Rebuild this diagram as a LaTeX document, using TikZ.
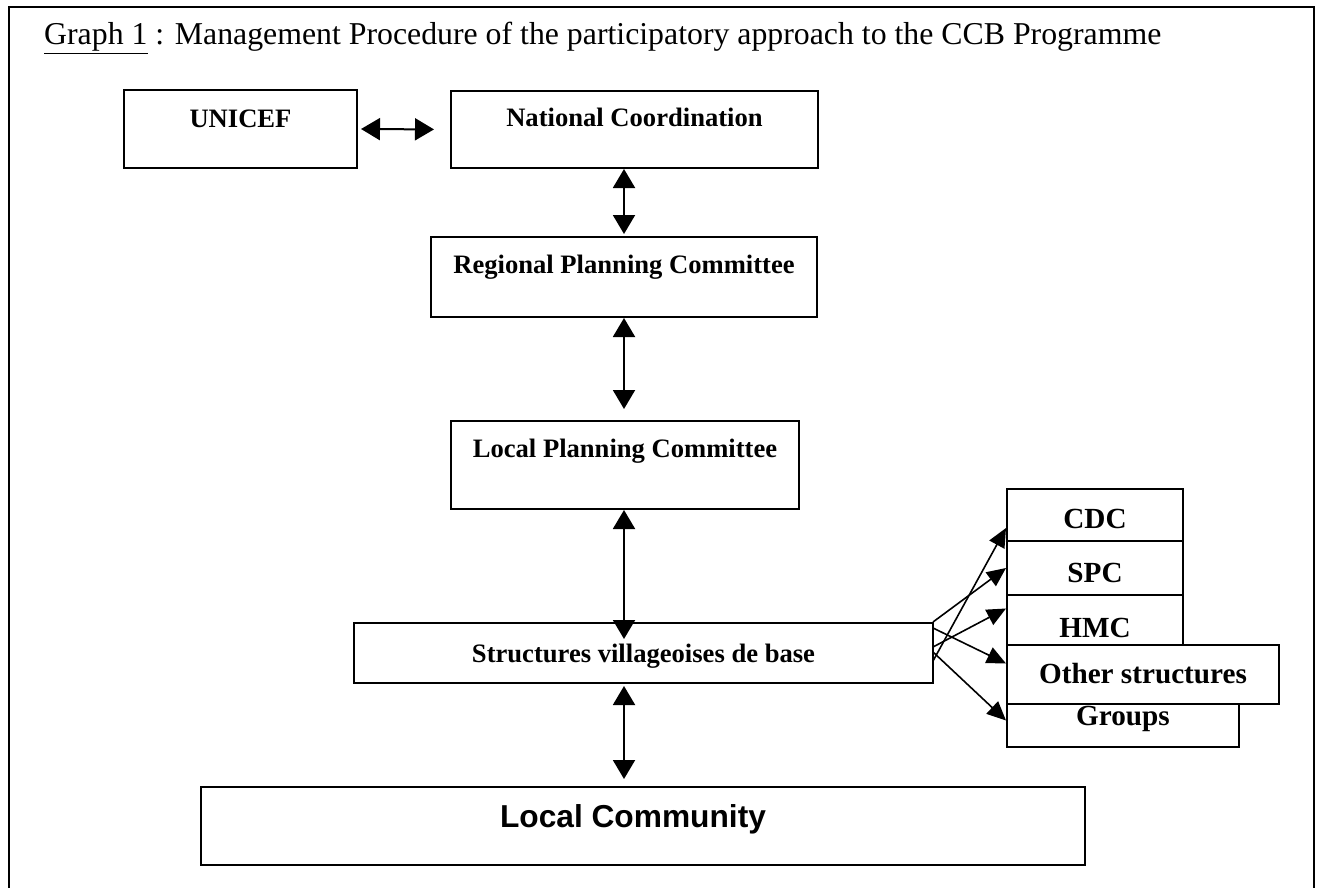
\documentclass[tikz,border=0pt]{standalone}
\usepackage{fontspec}
\setmainfont{Liberation Serif}
\newfontfamily\arialfont{Liberation Sans}
\usetikzlibrary{arrows.meta,calc}
\begin{document}
\begin{tikzpicture}[x=1pt,y=-1pt,
  box/.style={draw, line width=2pt, inner sep=0pt, fill=white,
    font=\fontsize{26.6}{31}\selectfont\bfseries},
  sbox/.style={box, font=\fontsize{29.2}{34}\selectfont\bfseries},
  link/.style={line width=2pt, {Triangle[length=19pt,width=22pt]}-{Triangle[length=19pt,width=22pt]}},
  fan/.style={line width=1.6pt, -{Triangle[length=19pt,width=17pt]}}
]
\useasboundingbox (0,0) rectangle (1317,888);
\draw[line width=2pt] (9,888) -- (9,7) -- (1314,7) -- (1314,888);

\node[anchor=base west, inner sep=0pt, font=\fontsize{31.8}{38}\selectfont] (title) at (44,45)
  {\underline{Graph 1} : Management Procedure of the participatory approach to the CCB Programme};

\node[box, minimum width=233pt, text height=38pt, text depth=40pt] (un) at (240.5,129) {UNICEF};
\node[box, minimum width=367pt, text height=36pt, text depth=41pt] (nc) at (634.5,129.5) {National Coordination};
\node[box, minimum width=386pt, text height=36pt, text depth=44pt] (rp) at (624,277) {Regional Planning Committee};
\node[box, minimum width=348pt, text height=36pt, text depth=52pt] (lp) at (625,465) {Local Planning Committee};
\node[box, minimum width=579pt, text height=39pt, text depth=21pt] (sv) at (643.5,653) {Structures villageoises de base};
\node[box, minimum width=884pt, text height=40pt, text depth=38pt, font=\arialfont\fontsize{31.7}{37}\selectfont\bfseries] (lc) at (643,826) {\hspace*{-20pt}Local Community};

\node[sbox, minimum width=176pt, text height=39pt, text depth=13pt] (cdc) at (1095,515) {CDC};
\node[sbox, minimum width=176pt, text height=41pt, text depth=13pt] (spc) at (1095,568) {SPC};
\node[sbox, minimum width=176pt, text height=42pt, text depth=13pt] (hmc) at (1095,622.5) {HMC};
\node[sbox, minimum width=232pt, text height=35pt, text depth=22pt] (grp) at (1123,718.5) {Groups};
\node[sbox, minimum width=272pt, text height=38pt, text depth=21pt] (oth) at (1143,674.5) {Other structures};

\draw[link, shorten <=3pt, shorten >=16pt] (un.east) -- (nc.west);
\draw[link, shorten >=2pt] (nc.south -| rp.north) -- (rp.north);
\draw[link, shorten >=11pt] (rp.south) -- (rp.south |- lp.north);
\draw[link, shorten >=-17pt] (rp.south |- lp.south) -- (rp.south |- sv.north);
\draw[link, shorten <=2pt, shorten >=7pt] (rp.south |- sv.south) -- (rp.south |- lc.north);

\draw[fan] ($(sv.east)+(-1,8)$) -- ($(cdc.west)+(0,13)$);
\draw[fan] ($(sv.east)+(-1,-31)$) -- (spc.west);
\draw[fan] ($(sv.east)+(-1,-6)$) -- ($(hmc.west)+(0,-14)$);
\draw[fan] ($(sv.east)+(-1,-25)$) -- ($(oth.west)+(0,-11)$);
\draw[fan] ($(sv.east)+(-1,-1)$) -- ($(grp.west)+(0,2)$);
\end{tikzpicture}
\end{document}
